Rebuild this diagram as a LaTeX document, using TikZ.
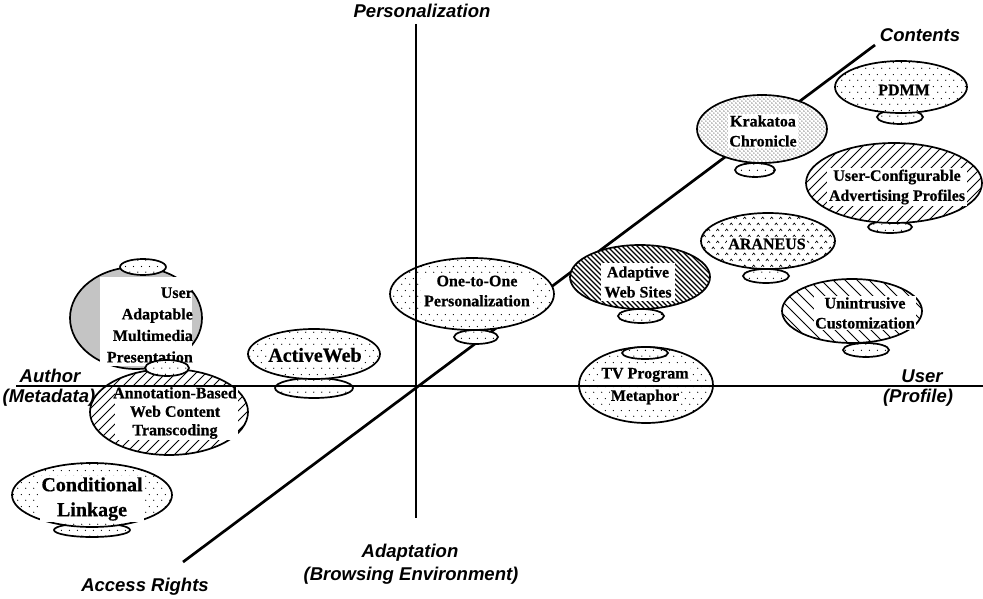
\documentclass[tikz,border=0pt]{standalone}
\usepackage{fontspec}
\setmainfont{Liberation Serif}[BoldFeatures={FakeBold=0.6}]
\newfontfamily\axfont{Liberation Sans}
\usetikzlibrary{patterns}

\pgfdeclarepatternformonly{sdots}{\pgfpointorigin}{\pgfqpoint{8pt}{12pt}}{\pgfqpoint{8pt}{12pt}}{%
  \pgfpathcircle{\pgfqpoint{2pt}{3pt}}{0.7pt}\pgfpathcircle{\pgfqpoint{6pt}{9pt}}{0.7pt}\pgfusepath{fill}}
\pgfdeclarepatternformonly{mdots}{\pgfpointorigin}{\pgfqpoint{4.4pt}{4.4pt}}{\pgfqpoint{4.4pt}{4.4pt}}{%
  \pgfpathcircle{\pgfqpoint{1.1pt}{1.1pt}}{0.6pt}\pgfpathcircle{\pgfqpoint{3.3pt}{3.3pt}}{0.6pt}\pgfusepath{fill}}
\pgfdeclarepatternformonly{fdots}{\pgfpointorigin}{\pgfqpoint{2.4pt}{2.4pt}}{\pgfqpoint{2.4pt}{2.4pt}}{%
  \pgfpathcircle{\pgfqpoint{1.2pt}{1.2pt}}{0.75pt}\pgfusepath{fill}}
\pgfdeclarepatternformonly{nelines}{\pgfqpoint{-1pt}{-1pt}}{\pgfqpoint{11pt}{11pt}}{\pgfqpoint{10pt}{10pt}}{%
  \pgfsetlinewidth{0.9pt}\pgfpathmoveto{\pgfqpoint{0pt}{0pt}}\pgfpathlineto{\pgfqpoint{10.1pt}{10.1pt}}\pgfusepath{stroke}}
\pgfdeclarepatternformonly{nwlines}{\pgfqpoint{-1pt}{-1pt}}{\pgfqpoint{13pt}{13pt}}{\pgfqpoint{12pt}{12pt}}{%
  \pgfsetlinewidth{0.9pt}\pgfpathmoveto{\pgfqpoint{0pt}{12pt}}\pgfpathlineto{\pgfqpoint{12.1pt}{-0.1pt}}\pgfusepath{stroke}}
\pgfdeclarepatternformonly{dnwlines}{\pgfqpoint{-1pt}{-1pt}}{\pgfqpoint{6pt}{6pt}}{\pgfqpoint{5pt}{5pt}}{%
  \pgfsetlinewidth{1.1pt}\pgfpathmoveto{\pgfqpoint{0pt}{5pt}}\pgfpathlineto{\pgfqpoint{5.1pt}{-0.1pt}}\pgfusepath{stroke}}
\pgfdeclarepatternformonly{carets}{\pgfqpoint{-1pt}{-1pt}}{\pgfqpoint{10pt}{13pt}}{\pgfqpoint{9pt}{12pt}}{%
  \pgfsetlinewidth{0.6pt}%
  \pgfpathmoveto{\pgfqpoint{0.8pt}{2pt}}\pgfpathlineto{\pgfqpoint{2.2pt}{4pt}}\pgfpathlineto{\pgfqpoint{3.6pt}{2pt}}%
  \pgfpathmoveto{\pgfqpoint{5.3pt}{8pt}}\pgfpathlineto{\pgfqpoint{6.7pt}{10pt}}\pgfpathlineto{\pgfqpoint{8.1pt}{8pt}}%
  \pgfusepath{stroke}}

\tikzset{
  blob/.style={draw, line width=1.7pt, preaction={fill=white}, pattern=#1},
  lbl/.style={font=\axfont\bfseries\itshape\fontsize{18.5}{22}\selectfont, inner sep=0pt, align=center},
  txt/.style={font=\bfseries\fontsize{16}{20}\selectfont, align=center, fill=white, inner sep=1.5pt},
  bigtxt/.style={font=\bfseries\fontsize{20}{25}\selectfont, align=center, fill=white, inner sep=1.5pt},
  axisline/.style={line width=2.7pt},
}

\begin{document}
\begin{tikzpicture}[x=1pt,y=-1pt]
\useasboundingbox (0,0) rectangle (983,599);

% diagonal axis (behind the ellipses)
\coordinate (ar) at (183,562);
\coordinate (ct) at (875,45);
\draw[axisline] (ar) -- (ct);

% PDMM
\draw[blob=sdots] (900,117) ellipse [x radius=23, y radius=7];
\draw[blob=sdots] (901,87) ellipse [x radius=66, y radius=26];
\node[txt] (pdmm) at (904,90) {PDMM};

% Krakatoa Chronicle
\draw[blob=sdots] (755,170) ellipse [x radius=20, y radius=7];
\draw[blob=mdots] (762,129) ellipse [x radius=65, y radius=34];
\node[txt] (krak) at (763,131) {Krakatoa\\Chronicle};

% User-Configurable Advertising Profiles
\draw[blob=sdots] (890,227) ellipse [x radius=22, y radius=6];
\draw[blob=nelines] (894,183) ellipse [x radius=88, y radius=40];
\node[txt] (ucap) at (897,187) {User-Configurable\\Advertising Profiles};

% ARANEUS
\draw[blob=sdots] (766,276) ellipse [x radius=23, y radius=7];
\draw[blob=carets] (768,241) ellipse [x radius=67, y radius=28];
\node[txt] (aran) at (767,244) {ARANEUS};

% Unintrusive Customization
\draw[blob=sdots] (866,350) ellipse [x radius=23, y radius=7];
\draw[blob=nwlines] (852,311) ellipse [x radius=70, y radius=32];
\node[txt] (unin) at (865,313) {Unintrusive\\Customization};

% Adaptive Web Sites
\draw[blob=sdots] (641,316) ellipse [x radius=23, y radius=7];
\draw[blob=dnwlines] (640,277) ellipse [x radius=70, y radius=32];
\node[txt, inner sep=3pt] (adap) at (638,282) {Adaptive\\Web Sites};

% TV Program Metaphor
\draw[blob=sdots] (646,385) ellipse [x radius=67, y radius=38];
\draw[blob=sdots] (645,353) ellipse [x radius=23, y radius=6];
\node[txt, inner sep=1pt] (tvp1) at (645,375) {TV Program};
\node[txt, inner sep=1pt] (tvp2) at (645,397) {Metaphor};

% One-to-One Personalization
\draw[blob=sdots] (476,337) ellipse [x radius=22, y radius=7];
\draw[blob=sdots] (472,294) ellipse [x radius=82, y radius=36];
\node[txt, inner sep=3pt] (oto) at (477,291) {One-to-One\\Personalization};

% ActiveWeb
\draw[blob=sdots] (314,388) ellipse [x radius=39, y radius=10];
\draw[blob=sdots] (314,354) ellipse [x radius=66, y radius=25];
\node[bigtxt] (aweb) at (315,355) {ActiveWeb};

% User Adaptable Multimedia Presentation
\draw[blob=fdots] (136,318) ellipse [x radius=66, y radius=51];
\fill[white] (100,277) rectangle (192,366);
\node[font=\bfseries\fontsize{16}{21.5}\selectfont, align=right, anchor=east, inner sep=0pt] (uamp) at (193,325) {User\\Adaptable\\Multimedia\\Presentation};
\draw[blob=sdots] (143,267) ellipse [x radius=23, y radius=8];

% Annotation-Based Web Content Transcoding
\draw[blob=nelines] (169,412) ellipse [x radius=79, y radius=43];
\fill[white] (115,387) rectangle (238,440);
\node[font=\bfseries\fontsize{16}{18.5}\selectfont, align=center, inner sep=0pt] (abwc) at (175,413) {Annotation-Based\\Web Content\\Transcoding};
\draw[blob=sdots] (167,368) ellipse [x radius=22, y radius=8];

% Conditional Linkage
\draw[blob=sdots] (92,530) ellipse [x radius=38, y radius=7];
\draw[blob=sdots] (92,495) ellipse [x radius=80, y radius=32];
\node[bigtxt] (cond) at (92,499) {Conditional\\Linkage};

% main axes (in front)
\coordinate (pt) at (416,24);
\coordinate (pb) at (416,518);
\coordinate (hl) at (16,386);
\coordinate (hr) at (983,386);
\draw[axisline] (pt) -- (pb);
\draw[axisline] (hl) -- (hr);

% axis labels
\node[lbl] (lpers) at (422,11) {Personalization};
\node[lbl] (lcont) at (920,35) {Contents};
\node[lbl] (lauth) at (50,376) {Author};
\node[lbl] (lmeta) at (49,398) {(Metadata)};
\node[lbl] (luser) at (922,376) {User};
\node[lbl] (lprof) at (918,398) {(Profile)};
\node[lbl] (ladap) at (410,553) {Adaptation};
\node[lbl] (lbrow) at (411,576) {(Browsing Environment)};
\node[lbl] (lacc) at (145,587) {Access Rights};
\end{tikzpicture}
\end{document}
